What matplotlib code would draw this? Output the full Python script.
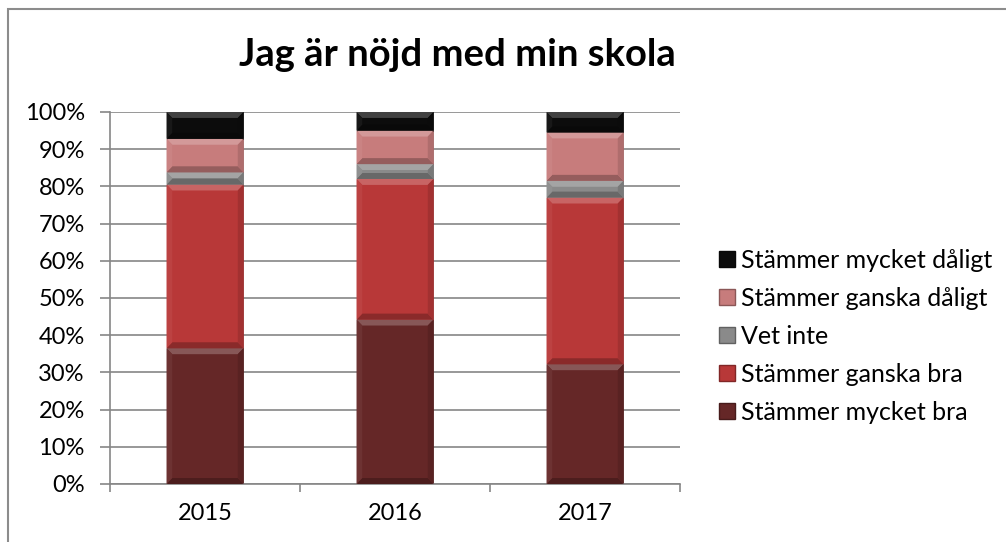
import matplotlib
matplotlib.use('Agg')
import matplotlib.pyplot as plt
from matplotlib.patches import Polygon, Rectangle
from matplotlib.ticker import PercentFormatter
import numpy as np
from matplotlib.colors import to_rgb

plt.rcParams['font.family'] = ['Lato', 'DejaVu Sans']

years = ['2015', '2016', '2017']
labels = ['Stämmer mycket bra', 'Stämmer ganska bra', 'Vet inte',
          'Stämmer ganska dåligt', 'Stämmer mycket dåligt']
mycket_bra = [36.5, 44.2, 32.2]
ganska_bra = [44.0, 37.8, 44.8]
vet_inte = [3.3, 4.0, 4.5]
ganska_daligt = [9.0, 9.0, 13.0]
mycket_daligt = [7.2, 5.0, 5.5]
series = [mycket_bra, ganska_bra, vet_inte, ganska_daligt, mycket_daligt]
colors = ['#652727', '#b83838', '#8a8a8a', '#c77c7c', '#0c0c0c']


def shade(c, f):
    r = np.array(to_rgb(c))
    if f > 0:
        return tuple(r + (1 - r) * f)
    return tuple(r * (1 + f))


fig = plt.figure(figsize=(10.06, 5.42), dpi=100)
ax = fig.add_axes([110 / 1006, 1 - 484 / 542, 570 / 1006, 372 / 542])

# outer chart border
fig.patches.append(Rectangle((8 / 1006, -0.1), 1.2, 1 - 9 / 542 + 0.1,
                             transform=fig.transFigure, fill=False,
                             edgecolor='#8c8c8c', linewidth=1.5))

x = np.arange(len(years))
w = 0.405
dx = 0.03    # bevel width in data units
dy = 1.6     # bevel height in percent
bottom = np.zeros(len(years))
for vals, col, lab in zip(series, colors, labels):
    vals = np.array(vals)
    ax.bar(x, vals, w, bottom=bottom, color=col, label=lab, zorder=2,
           edgecolor=shade(col, -0.25), linewidth=0.5)
    for xi, b, v in zip(x, bottom, vals):
        x0, x1 = xi - w / 2, xi + w / 2
        t = b + v
        h = min(dy, v / 2)
        ax.add_patch(Polygon([(x0, t), (x1, t), (x1 - dx, t - h), (x0 + dx, t - h)],
                             closed=True, color=shade(col, 0.22), lw=0, zorder=3))
        ax.add_patch(Polygon([(x0, b), (x1, b), (x1 - dx, b + h), (x0 + dx, b + h)],
                             closed=True, color=shade(col, -0.25), lw=0, zorder=3))
        ax.add_patch(Polygon([(x1, b), (x1, t), (x1 - dx, t - h), (x1 - dx, b + h)],
                             closed=True, color=shade(col, -0.12), lw=0, zorder=3))
        ax.add_patch(Polygon([(x0, b), (x0, t), (x0 + dx, t - h), (x0 + dx, b + h)],
                             closed=True, color=shade(col, 0.05), lw=0, zorder=3))
    bottom = bottom + vals

ax.set_xlim(-0.5, 2.5)
ax.set_ylim(0, 100)
ax.set_yticks(np.arange(0, 101, 10))
ax.yaxis.set_major_formatter(PercentFormatter(decimals=0))
ax.set_xticks(x)
ax.set_xticklabels(years)
ax.set_xticks([-0.5, 0.5, 1.5, 2.5], minor=True)
ax.tick_params(axis='x', which='major', length=0, pad=14, labelsize=17)
ax.tick_params(axis='x', which='minor', length=6, color='#868686', width=1.2)
ax.tick_params(axis='y', length=7.2, color='#868686', width=1.2, labelsize=17, pad=11)
ax.grid(axis='y', color='#868686', linewidth=1.2, zorder=0)
ax.set_axisbelow(True)
for s in ['top', 'right']:
    ax.spines[s].set_visible(False)
for s in ['left', 'bottom']:
    ax.spines[s].set_color('#868686')
    ax.spines[s].set_linewidth(1.2)

fig.text(457 / 1006, 1 - 55 / 542, 'Jag är nöjd med min skola', ha='center',
         va='center', fontsize=27.5, fontweight='bold')

handles = [Rectangle((0, 0), 1, 1, facecolor=c, edgecolor=shade(c, -0.3))
           for c in colors]
leg = fig.legend(handles[::-1], labels[::-1], loc='upper left',
                 bbox_to_anchor=(719 / 1006, 1 - 249 / 542), frameon=False,
                 fontsize=18, handlelength=0.62, handleheight=0.62,
                 handletextpad=0.25, labelspacing=0.6, borderaxespad=0,
                 borderpad=0)

fig.savefig('out.png', dpi=100)
